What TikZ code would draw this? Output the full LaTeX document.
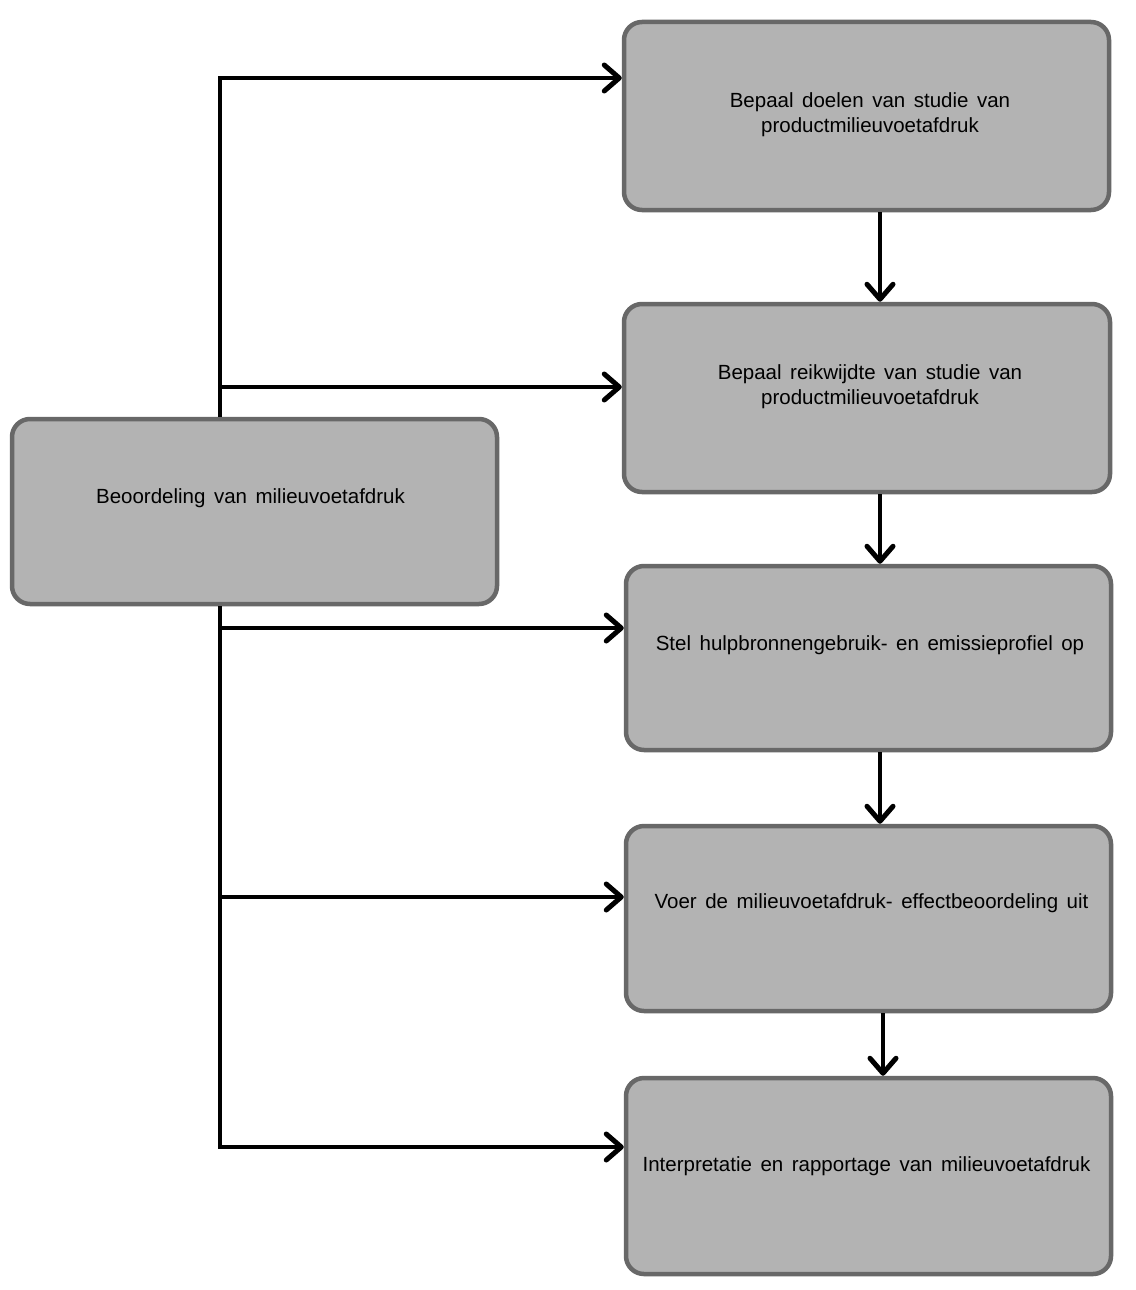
\documentclass[tikz,border=0pt]{standalone}
\usepackage{fontspec}
\setmainfont[WordSpace=1.5]{Liberation Sans}
\usetikzlibrary{arrows.meta,calc}
\definecolor{boxfill}{HTML}{B3B3B3}
\definecolor{boxline}{HTML}{686868}
\begin{document}
\begin{tikzpicture}[x=1pt,y=-1pt,
  box/.style={draw=boxline, fill=boxfill, line width=4.5pt, rounded corners=18pt, inner sep=0pt},
  txt/.style={font=\fontsize{20.5}{25}\selectfont, align=center, inner sep=0pt, text=black},
  arr/.style={line width=4pt, -{Straight Barb[length=15pt,width=26pt,line width=5pt,round]}},
  trunk/.style={line width=4pt}
]
\fill[white] (0,0) rectangle (1135,1290);
\useasboundingbox (0,0) rectangle (1135,1290);

\node[box, minimum width=485pt, minimum height=188pt] (b1) at (866.5,116) {};
\node[box, minimum width=486pt, minimum height=188pt] (b2) at (867,398) {};
\node[box, minimum width=485pt, minimum height=184pt] (b3) at (868.5,658) {};
\node[box, minimum width=485pt, minimum height=185pt] (b4) at (868.5,918.5) {};
\node[box, minimum width=485pt, minimum height=196pt] (b5) at (868.5,1176) {};
\node[box, minimum width=485pt, minimum height=185pt] (L) at (254.5,511.5) {};

\node[txt] (t1) at (870,115) {Bepaal doelen van studie van\\productmilieuvoetafdruk};
\node[txt] (t2) at (870,387) {Bepaal reikwijdte van studie van\\productmilieuvoetafdruk};
\node[txt] (t3) at (870,645) {Stel hulpbronnengebruik- en emissieprofiel op};
\node[txt] (t4) at (871.5,903) {Voer de milieuvoetafdruk- effectbeoordeling uit};
\node[txt] (t5) at (866.5,1166) {Interpretatie en rapportage van milieuvoetafdruk};
\node[txt] (tL) at (250.5,498) {Beoordeling van milieuvoetafdruk};

% reference levels
\coordinate (ja) at (220,0);
\coordinate (y1) at (0,78);
\coordinate (y2) at (0,387);
\coordinate (y3) at (0,628);
\coordinate (y4) at (0,897);
\coordinate (y5) at (0,1147);
\coordinate (vx) at (880,0);
\coordinate (vx4) at (883,0);

% upper branch
\draw[trunk] (L.north -| ja) -- (ja |- y1) -- ++(-2,0);
\draw[arr] ($(ja |- y1)+(-2,0)$) -- (b1.west |- y1);
\draw[arr] (ja |- y2) -- (b2.west |- y2);

% lower branch
\draw[trunk] (L.south -| ja) -- (ja |- y5);
\draw[arr] (ja |- y3) -- (b3.west |- y3);
\draw[arr] (ja |- y4) -- (b4.west |- y4);
\draw[arr] ($(ja |- y5)+(-2,0)$) -- (b5.west |- y5);

% vertical chain
\draw[arr] (b1.south -| vx) -- (b2.north -| vx);
\draw[arr] (b2.south -| vx) -- (b3.north -| vx);
\draw[arr] (b3.south -| vx) -- (b4.north -| vx);
\draw[arr] (b4.south -| vx4) -- (b5.north -| vx4);
\end{tikzpicture}
\end{document}
